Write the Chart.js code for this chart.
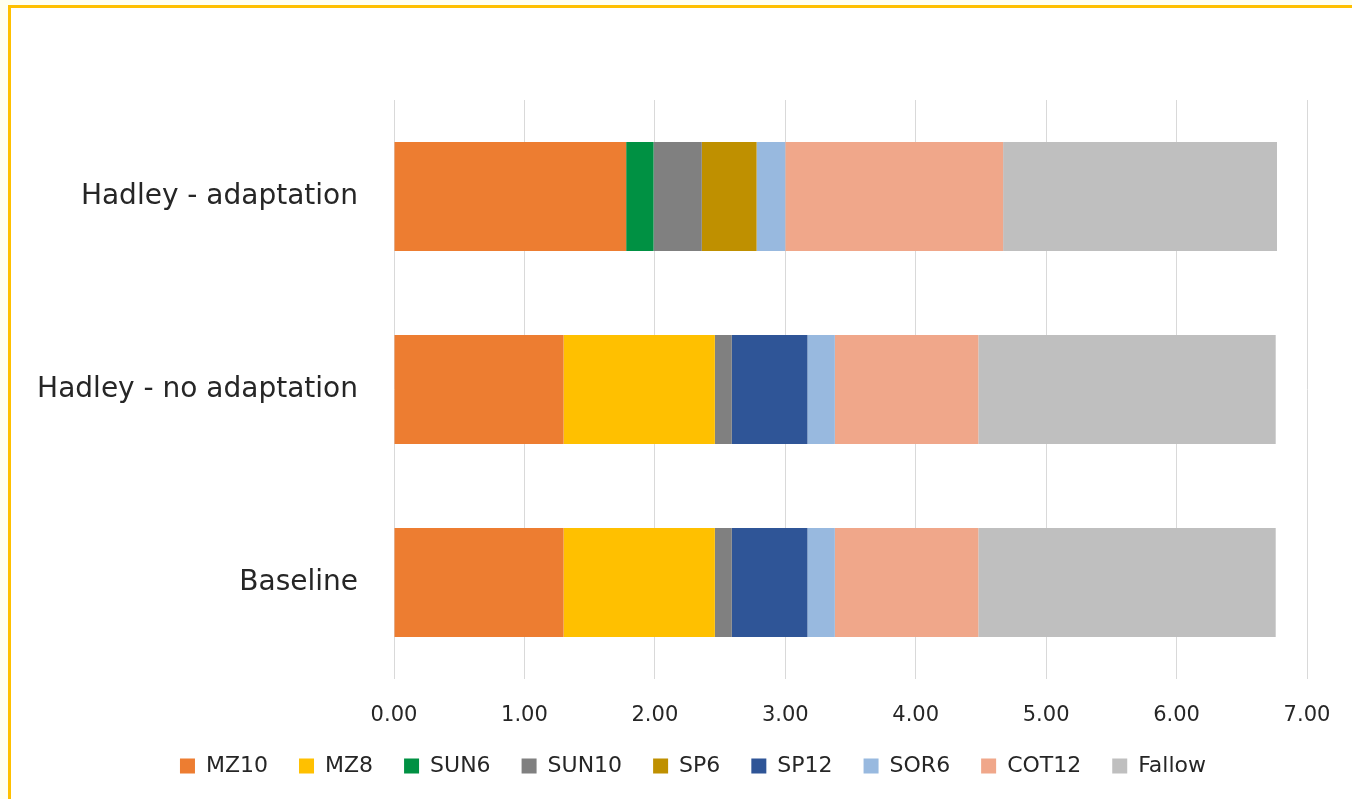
<!DOCTYPE html>
<html>
<head>
<meta charset="utf-8">
<script src="https://cdn.jsdelivr.net/npm/chart.js@4"></script>
<style>
  html, body { margin: 0; padding: 0; width: 1352px; height: 799px; overflow: hidden; background: #FFFFF0; }
  #frame { position: absolute; left: 8px; top: 5px; width: 1400px; height: 850px; background: #ffffff;
           border-left: 3px solid #FFC000; border-top: 3px solid #FFC000; }
  #wrap { position: absolute; left: 0; top: 0; width: 1352px; height: 799px; }
</style>
</head>
<body>
<div id="frame"></div>
<div id="wrap"><canvas id="c" width="1352" height="799"></canvas></div>
<script>
// Scenarios (top to bottom) and crop areas per scenario
const scenarios = ['Hadley - adaptation', 'Hadley - no adaptation', 'Baseline'];
const xTicks = [0, 1, 2, 3, 4, 5, 6, 7];

const MZ10   = [1.78, 1.30, 1.30];
const MZ8    = [null, 1.16, 1.16];
const SUN6   = [0.21, null, null];
const SUN10  = [0.37, 0.13, 0.13];
const SP6    = [0.42, null, null];
const SP12   = [null, 0.58, 0.58];
const SOR6   = [0.22, 0.21, 0.21];
const COT12  = [1.67, 1.10, 1.10];
const Fallow = [2.10, 2.28, 2.28];

const series = [
  ['MZ10', MZ10, '#ED7D31'],
  ['MZ8', MZ8, '#FFC000'],
  ['SUN6', SUN6, '#009143'],
  ['SUN10', SUN10, '#808080'],
  ['SP6', SP6, '#BF9000'],
  ['SP12', SP12, '#2F5597'],
  ['SOR6', SOR6, '#98B9DF'],
  ['COT12', COT12, '#F0A78A'],
  ['Fallow', Fallow, '#BFBFBF']
];

const FONT = "'DejaVu Sans', sans-serif";
const TEXT = '#262626';
const PAD_LEFT = 20;
const PLOT_LEFT = 394;
const LEGEND_CENTER = 693;

// Fixed legend band height, and legend row centred under the plot
const legendBand = {
  id: 'legendBand',
  beforeLayout(chart) {
    const lg = chart.legend;
    if (lg && !lg._bandPatched) {
      const fit = lg.fit;
      lg.fit = function () { fit.call(this); this.height = 75; };
      lg._bandPatched = true;
    }
  },
  afterLayout(chart) {
    const lg = chart.legend;
    if (!lg) return;
    const shift = LEGEND_CENTER - (lg.left + lg.right) / 2;
    lg.left += shift;
    lg.right += shift;
  }
};

new Chart(document.getElementById('c'), {
  type: 'bar',
  data: {
    labels: scenarios,
    datasets: series.map(([name, vals, col]) => ({
      label: name,
      data: vals,
      backgroundColor: col,
      borderWidth: 0,
      barPercentage: 0.565,
      categoryPercentage: 1.0
    }))
  },
  options: {
    indexAxis: 'y',
    responsive: false,
    animation: false,
    layout: { padding: { left: PAD_LEFT, top: 100, right: 45, bottom: 0 } },
    scales: {
      x: {
        stacked: true,
        min: 0, max: 7,
        afterBuildTicks(scale) { scale.ticks = xTicks.map(v => ({ value: v })); },
        afterFit(scale) {
          scale.height = 45;
          scale.paddingLeft = 0;
          scale.paddingRight = 0;
        },
        grid: { color: '#D9D9D9', lineWidth: 1, drawTicks: false },
        border: { display: false },
        ticks: {
          padding: 24,
          color: TEXT,
          font: { family: FONT, size: 21 },
          callback: v => Number(v).toFixed(2)
        }
      },
      y: {
        stacked: true,
        afterFit(scale) { scale.width = PLOT_LEFT - PAD_LEFT; },
        grid: { display: false, drawTicks: false },
        border: { display: false },
        ticks: {
          padding: 36,
          color: TEXT,
          font: { family: FONT, size: 28 }
        }
      }
    },
    plugins: {
      legend: {
        position: 'bottom',
        labels: {
          boxWidth: 15,
          boxHeight: 15,
          padding: 31,
          color: TEXT,
          font: { family: FONT, size: 22 }
        }
      },
      tooltip: { enabled: false }
    }
  },
  plugins: [legendBand]
});
</script>
</body>
</html>
